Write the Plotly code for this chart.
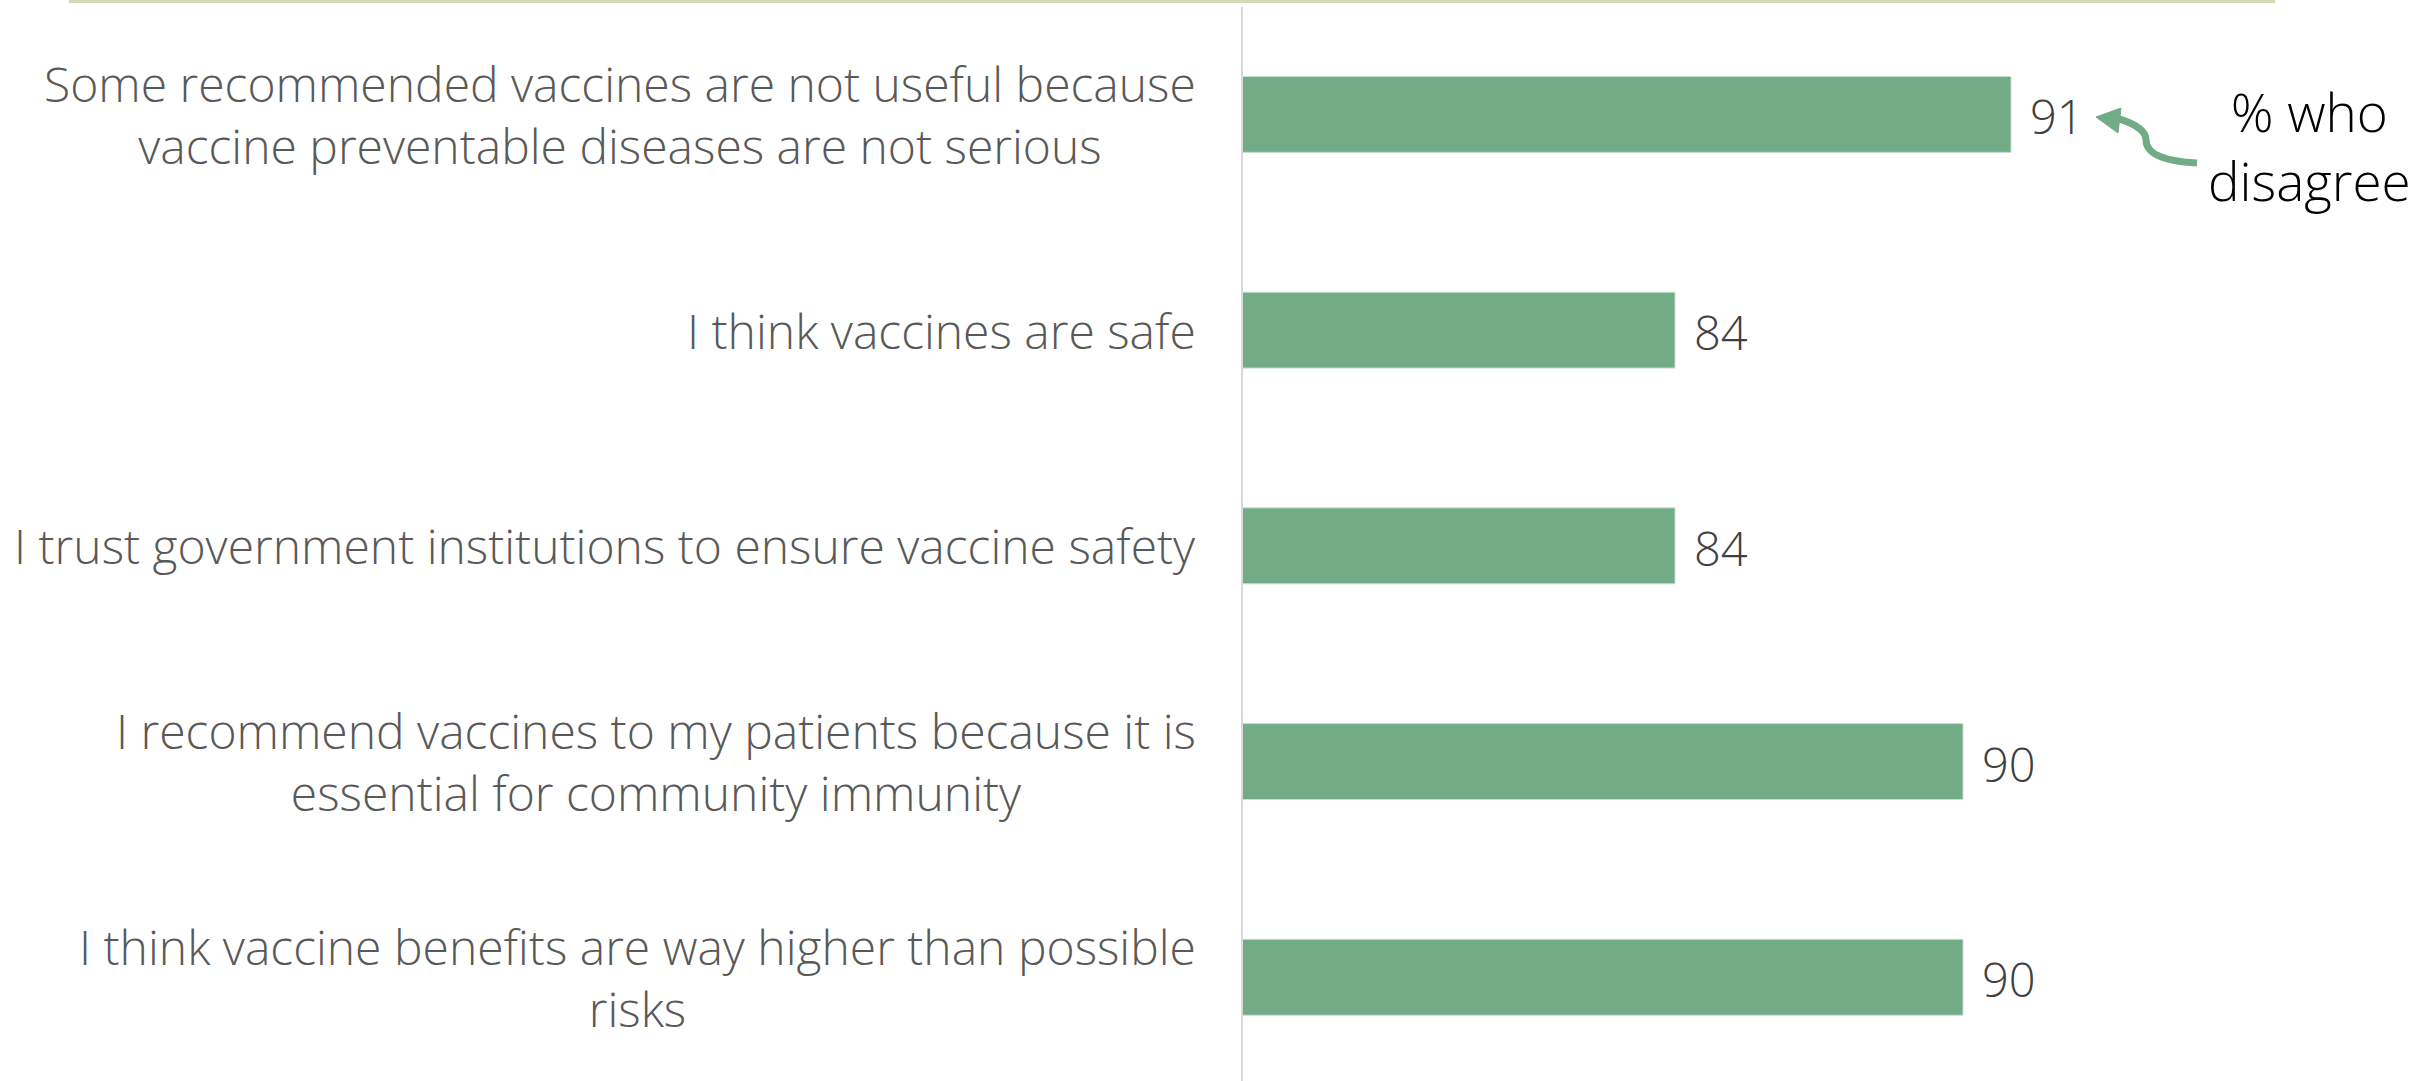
import plotly.graph_objects as go

categories = [
    "Some recommended vaccines are not useful because<br>vaccine preventable diseases are not serious",
    "I think vaccines are safe",
    "I trust government institutions to ensure vaccine safety",
    "I recommend vaccines to my patients because it is<br>essential for community immunity",
    "I think vaccine benefits are way higher than possible<br>risks",
]
values = [91, 84, 84, 90, 90]
positions = list(range(len(categories)))

W, H = 2432, 1081
L, R, T, B = 1243, 229, 7, 0
XMIN, XMAX = 75, 95
YTOP, YBOT = -0.498, 4.481
FONT = "Open Sans"
GREEN = "#72ac87"

pw = W - L - R
ph = H - T - B


def px_to_x(px):
    return XMIN + (px - L) / pw * (XMAX - XMIN)


def py_to_y(py):
    return YTOP + (py - T) / ph * (YBOT - YTOP)


def px_to_paper(px):
    return (px - L) / pw


def py_to_paper(py):
    return 1 - (py - T) / ph


fig = go.Figure()
fig.add_trace(go.Bar(
    x=values, y=positions, orientation="h",
    marker=dict(color=GREEN, line=dict(color="#c9e0d0", width=1)),
    width=0.352, hoverinfo="skip",
))

annotations = []
for cat, v, p in zip(categories, values, positions):
    annotations.append(dict(
        x=0, xref="paper", y=p, yref="y", text=cat, showarrow=False,
        xanchor="right", yanchor="middle", align="center", xshift=-45,
        font=dict(family=FONT, size=48, weight=300, color="#595959"),
    ))
    annotations.append(dict(
        x=v, xref="x", y=p, yref="y", text=str(v), showarrow=False,
        xanchor="left", yanchor="middle", xshift=17, yshift=-2,
        font=dict(family=FONT, size=47, weight=300, color="#404040"),
    ))

annotations.append(dict(
    x=px_to_paper(2309), xref="paper", y=py_to_paper(146), yref="paper",
    text="% who<br>disagree", showarrow=False, xanchor="center", yanchor="middle",
    align="center", font=dict(family=FONT, size=53, weight=300, color="#000000"),
))

# curved arrow
def P(p):
    return f"{px_to_x(p[0])},{py_to_y(p[1])}"

path = (f"M {P((2197, 163))} C {P((2160, 161))} {P((2146, 152))} {P((2146, 140))} "
        f"C {P((2146, 130))} {P((2132, 122))} {P((2112, 117))}")
shapes = [
    dict(type="path", path=path, xref="x", yref="y",
         line=dict(color=GREEN, width=7)),
    dict(type="path", xref="x", yref="y",
         path=f"M {P((2096, 117))} L {P((2121, 108))} L {P((2118, 133))} Z",
         fillcolor=GREEN, line=dict(color=GREEN, width=1)),
    # top band
    dict(type="rect", xref="paper", yref="paper",
         x0=px_to_paper(69), x1=px_to_paper(2275),
         y0=py_to_paper(3), y1=py_to_paper(0),
         fillcolor="#d7d8b6", line=dict(width=0), layer="above"),
]

fig.update_layout(
    width=W, height=H,
    margin=dict(l=L, r=R, t=T, b=B, pad=0),
    paper_bgcolor="white", plot_bgcolor="white",
    showlegend=False,
    xaxis=dict(range=[XMIN, XMAX], visible=False, fixedrange=True),
    yaxis=dict(range=[YBOT, YTOP], showticklabels=False, ticks="",
               showgrid=False, zeroline=False, showline=True,
               linecolor="#d9d9d9", linewidth=2, fixedrange=True),
    annotations=annotations,
    shapes=shapes,
)

fig.write_html("out.html", config={"displayModeBar": False},
               post_script="document.body.style.margin='0';document.body.style.overflow='hidden';")
